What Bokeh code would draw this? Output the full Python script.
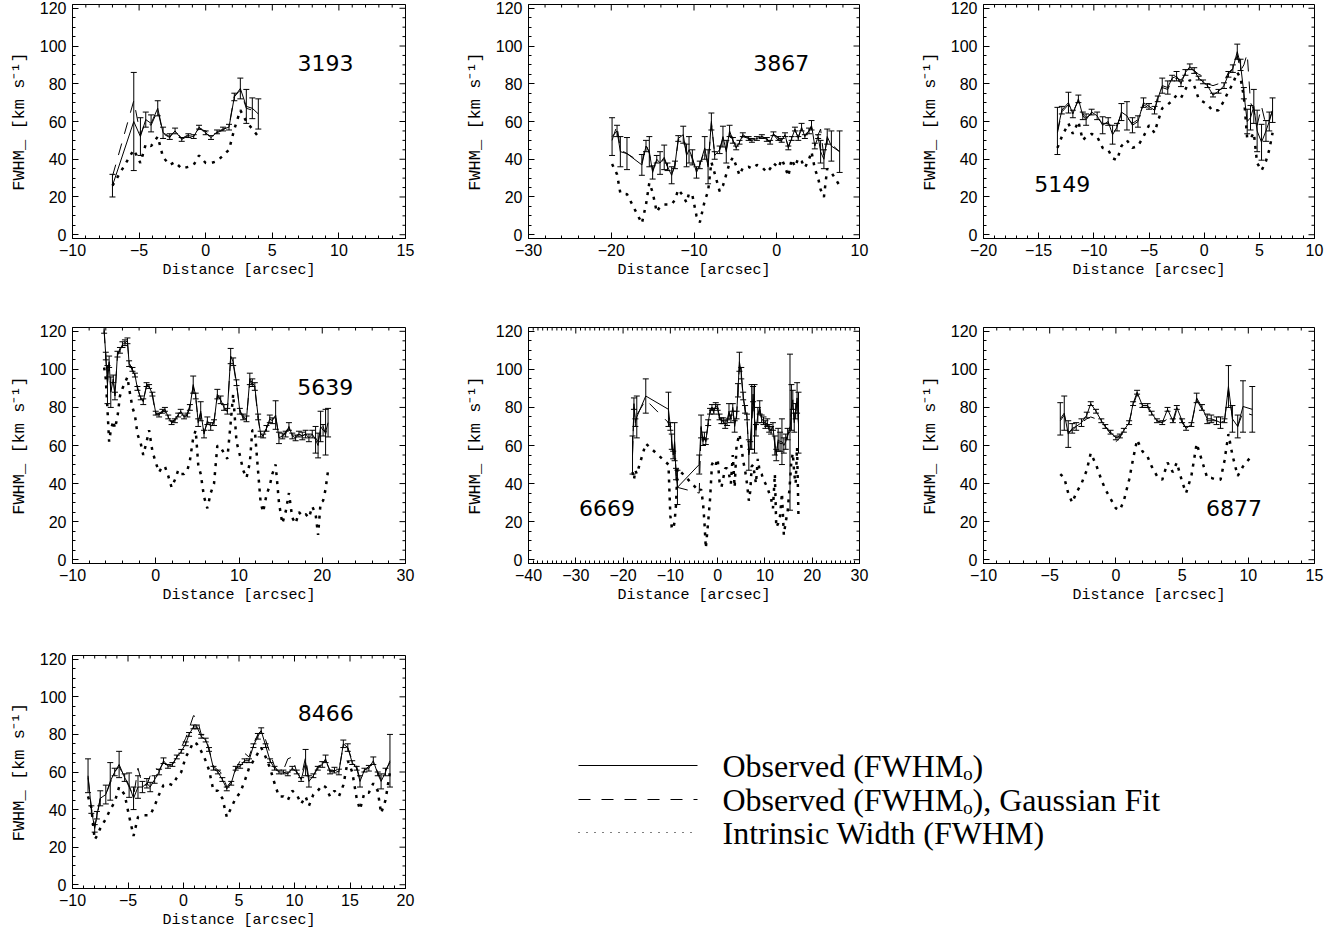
import math
from bokeh.plotting import figure
from bokeh.layouts import column, row
from bokeh.models import Range1d, LinearAxis, FixedTicker, Whisker, ColumnDataSource, TeeHead, Label
from bokeh.embed import file_html
from bokeh.resources import INLINE
from bokeh.core.properties import value

# ---------------- data ----------------
x_3193 = [-7.0, -5.4, -4.9, -4.5, -4.1, -3.6, -3.2, -2.7, -2.3, -1.8, -1.3, -0.9, -0.5, 0.0, 0.4, 0.85, 1.3, 1.75, 2.15, 2.6, 3.05, 3.5, 3.95]
obs_3193 = [26, 60, 52, 61, 59, 67, 54, 52, 55, 50.5, 52.5, 52, 57, 54, 51.5, 54.5, 56, 57, 73, 77.5, 68, 67, 64]
err_3193 = [6, 26, 10, 4, 4.5, 4, 3, 1.5, 1.5, 1, 1, 1, 1, 1, 1, 1, 1, 1.5, 2, 5.5, 9, 5.5, 8]
fit_3193 = [31, 71, 53, 60, 58, 66, 53.5, 51.5, 55.5, 51, 53, 53, 56, 55, 52.5, 54, 55.5, 57.5, 73.5, 76.5, 67, 66, 63]
intr_3193 = [26, 45, 38, 48, 47, 52, 41, 37, 38.5, 35, 36, 37, 42, 38, 38, 39, 42, 45, 56, 66, 60, 56, 52]

x_3867 = [-19.9, -19.3, -18.9, -18.1, -16.3, -15.8, -15.4, -15.0, -14.5, -14.1, -13.6, -13.2, -12.7, -12.3, -11.9, -11.3,
          -10.9, -10.6, -10.2, -9.7, -9.3, -8.7, -8.3, -7.9, -7.5, -6.9, -6.5, -6.1, -5.7, -5.3, -4.9, -4.5, -4.1, -3.4,
          -3.0, -2.4, -1.8, -1.2, -0.8, -0.4, 0.2, 0.6, 1.0, 1.4, 1.8, 2.2, 2.6, 3.0, 3.4, 3.9, 4.2, 4.6, 5.0, 5.3, 5.7,
          6.1, 6.6, 7.6]
obs_3867 = [52, 55, 44, 43, 37, 47, 44, 33, 40, 38, 41, 36, 31.5, 37, 51, 53, 42, 45, 41, 33, 37, 46, 36, 60, 42, 45,
            52, 44, 55, 50, 46, 49, 53, 51, 50, 51, 52, 50.5, 49, 53.5, 51, 50, 53, 46, 51, 56, 51, 57, 52, 55, 58, 47,
            52, 44, 40, 52, 47, 44]
err_3867 = [10, 3, 8, 8.5, 5.5, 3, 8, 3.5, 2, 6, 6.5, 2, 4.5, 2, 1.5, 4.5, 6, 7, 4, 3, 2, 6, 9, 4.5, 2, 2, 5.5, 6, 3,
            1.5, 1, 1, 1, 1, 1, 1, 1, 1, 1, 1, 1, 1, 1, 1, 1, 1, 1, 2, 1, 1.5, 2.5, 1.5, 1, 6, 5, 4, 8, 11]
fit_3867 = [50, 58, 45, 43, 38, 48, 43, 34, 40, 38, 40, 36, 32, 37, 50, 52, 43, 45, 40, 34, 37, 45, 37, 59, 43, 45, 51,
            45, 54, 50, 47, 49, 52, 51, 49, 51, 52, 51, 48.5, 53, 50, 49.5, 52, 47, 51, 55, 52, 56, 53, 55, 57, 52, 53,
            56, 41, 51, 48, 44]
intr_3867 = [37.5, 32, 22, 21.5, 6, 16, 27.5, 22.5, 12, 15, 16, 16, 16, 18.5, 24, 20.5, 17, 22, 21, 10, 6.5, 18, 23,
             38.5, 32.5, 23, 26, 32, 38, 41, 36.5, 31.5, 35.5, 36, 35, 37, 36, 33, 35, 38, 35.5, 40, 36, 31, 40, 36,
             40.5, 39, 35.5, 40, 44, 35, 30, 24, 20, 35, 33, 26]

x_5149 = [-13.3, -12.9, -12.3, -11.9, -11.4, -11.0, -10.7, -10.2, -9.7, -9.2, -8.7, -8.3, -7.9, -7.5, -7.0, -6.5, -6.0,
          -5.5, -5.0, -4.5, -4.2, -3.8, -3.3, -2.9, -2.5, -2.1, -1.7, -1.3, -0.9, -0.5, -0.1, 0.3, 0.8, 1.3, 1.8, 2.2,
          2.6, 3.0, 3.3, 3.6, 3.9, 4.2, 4.5, 4.8, 5.2, 5.6, 5.9, 6.2]
obs_5149 = [55, 66, 70, 64, 72, 63, 61, 65, 63, 58, 60, 53, 57, 65, 63, 58, 60, 70, 68, 66, 72, 79, 78, 83, 84, 80, 86,
            89, 87, 83, 81, 79, 74, 76, 79, 85, 88, 97, 90, 75, 60, 62, 68, 55, 49, 55, 60, 66]
err_5149 = [12.5, 2, 5.5, 2, 2, 2, 3, 1.5, 2, 4.5, 2, 5, 2, 4.5, 7.5, 4, 3, 2.5, 1.5, 2, 1.5, 4, 3.5, 1.5, 2.5, 1.5,
            1.5, 1.5, 1.5, 1, 1, 1, 1, 1, 1.5, 1.5, 2, 4, 3, 3, 6.5, 6.5, 9, 11, 9.5, 5.5, 5, 6.5]
fit_5149 = [54, 65, 69, 65, 71, 64, 62, 64, 62, 59, 59, 56, 58, 64, 62, 59, 61, 69, 67, 65, 74, 78, 77, 82, 83, 82, 85,
            88, 87, 85, 84, 80, 79, 80, 81, 86, 88, 95, 87, 90, 96, 70, 66, 58, 68, 58, 61, 66]
intr_5149 = [46, 52, 59, 53.5, 60, 50, 52, 53.5, 52, 46, 45, 40.5, 39.5, 47, 50, 46, 47, 52, 58, 54, 60, 67, 69, 71,
             74, 72.5, 77, 82, 79, 72, 70.5, 69, 65.5, 66, 71, 76, 80, 86, 83, 73, 51, 51, 54, 38, 34, 39, 45, 54]

x_5639 = [-6.2, -6.0, -5.8, -5.6, -5.4, -5.1, -4.9, -4.6, -4.3, -4.0, -3.7, -3.4, -3.2, -2.8, -2.5, -2.2, -1.8, -1.5,
          -1.1, -0.8, -0.4, 0.0, 0.4, 0.8, 1.1, 1.5, 1.9, 2.3, 2.7, 3.0, 3.4, 3.8, 4.1, 4.5, 4.8, 5.1, 5.4, 5.8, 6.2,
          6.6, 7.0, 7.4, 7.8, 8.2, 8.6, 9.0, 9.3, 9.7, 10.1, 10.5, 10.9, 11.3, 11.6, 11.9, 12.3, 12.6, 12.9, 13.3,
          13.7, 14.0, 14.4, 14.8, 15.2, 15.6, 16.0, 16.4, 16.8, 17.2, 17.6, 18.0, 18.4, 18.8, 19.2, 19.5, 19.8, 20.1,
          20.4, 20.7]
obs_5639 = [121, 107, 92, 104, 88, 95, 86, 108, 110, 113, 114, 115, 103, 100, 97, 90, 85, 83, 92, 91, 87, 77, 76, 78,
            79, 75, 72, 73, 76, 78, 75, 76, 80, 92, 86, 72, 78, 66, 73, 70, 72, 87, 84, 80, 78, 107, 104, 93, 78, 75,
            74, 95, 93, 91, 75, 66, 65, 69, 74, 73, 76, 64, 65, 66, 70, 65, 64, 66, 65, 66, 64, 66, 63, 60, 70, 68, 67,
            72]
err_5639 = [2, 2, 10, 3, 8, 2, 2, 1.5, 1.5, 1.5, 1.5, 1.5, 1.5, 1, 1, 1, 1, 1.5, 1, 1, 1, 1, 1, 1, 1, 1, 1, 1, 1, 1,
            1, 1, 1.5, 4.5, 1.5, 2, 5, 2, 2, 2, 1.5, 2.5, 2, 1.5, 1.5, 4, 2, 1.5, 1.5, 1.5, 1.5, 3, 2, 2, 1.5, 1.5, 1,
            1.5, 2, 1.5, 7.5, 3, 1.5, 1.5, 2, 1.5, 1.5, 1.5, 2, 2, 2, 2, 7, 6.5, 8, 3, 12, 7.5]
fit_5639 = [120, 106, 93, 103, 89, 94, 87, 107, 111, 112, 113, 114, 104, 99, 97, 91, 84, 84, 91, 92, 86, 76, 77, 78,
            78, 75, 72, 74, 76, 77, 75, 77, 81, 91, 85, 73, 77, 67, 72, 70, 73, 86, 84, 79, 78, 106, 103, 92, 79, 74,
            74, 94, 92, 90, 74, 66, 66, 69, 73, 74, 75, 65, 65, 67, 69, 65, 65, 66, 65, 66, 65, 66, 64, 62, 69, 70, 66,
            71]
intr_5639 = [101, 95, 79, 62, 68, 73, 69, 75, 86, 90, 93, 96, 90, 80, 76, 66, 61, 55, 62, 68, 57, 51, 46, 49, 49, 44,
             38, 42, 47, 45, 45, 47, 52, 64, 68, 50, 45, 33, 27, 35, 40, 60, 59, 56, 53, 72, 87, 62, 55, 47, 43, 51,
             68, 68, 46, 30, 25, 34, 39, 45, 50, 30, 19, 25, 35, 22, 19, 25, 23, 24, 22, 28, 24, 13, 30, 31, 37, 47]

x_6669 = [-18.0, -17.7, -17.4, -17.1, -15.2, -10.4, -10.0, -9.7, -9.4, -9.1, -8.8, -8.5, -3.9, -3.5, -3.1, -2.8, -2.5,
          -2.0, -1.6, -1.2, -0.8, -0.4, 0.0, 0.4, 0.8, 1.2, 1.6, 2.0, 2.4, 2.8, 3.2, 3.6, 4.0, 4.3, 4.6, 5.0, 5.4, 5.8,
          6.2, 6.6, 6.9, 7.2, 7.5, 7.8, 8.1, 8.5, 8.9, 9.3, 9.7, 10.1, 10.5, 10.9, 11.3, 11.7, 12.1, 12.4, 12.8, 13.2,
          13.6, 14.0, 14.4, 14.8, 15.3, 15.6, 15.9, 16.2, 16.5, 16.8, 17.1]
obs_6669 = [55, 82, 72, 75, 86, 79, 70, 62, 55, 62, 45, 38, 50, 70, 62, 65, 62, 72, 78, 80, 78, 81, 80, 75, 73, 73,
            71, 72, 78, 74, 80, 70, 76, 89, 104, 98, 86, 79, 75, 55, 60, 75, 87, 74, 68, 76, 80, 74, 73, 71, 72, 69,
            68, 70, 60, 55, 63, 62, 62, 60, 62, 66, 67, 80, 84, 72, 78, 85, 72]
err_6669 = [10, 3, 2, 11, 9, 9, 2, 4, 2, 10, 3, 9, 5, 6, 2, 2, 1.5, 1.5, 1.5, 1.5, 1.5, 1.5, 1.5, 1.5, 1.5, 1.5, 2,
            1.5, 4, 2, 2, 3, 2, 3.5, 5, 3, 2, 2, 1.5, 8, 2, 17, 4, 18, 3, 4, 3.5, 2, 2, 2, 2, 2, 2, 2, 5, 3, 6, 5, 12,
            4, 4, 3, 41, 12, 5, 5, 4, 8, 16]
fit_6669 = [56, 80, 73, 76, 84, 72, 70, 61, 56, 61, 46, 38, 35, 69, 63, 64, 63, 71, 77, 80, 77, 80, 79, 74, 73, 72,
            71, 73, 77, 74, 79, 71, 75, 88, 102, 97, 85, 79, 74, 56, 61, 70, 85, 73, 69, 75, 79, 73, 72, 70, 71, 68,
            68, 69, 61, 56, 62, 61, 61, 60, 62, 65, 70, 79, 83, 73, 77, 83, 71]
intr_6669 = [46, 42, 47, 45, 61, 50, 23, 17, 16, 20, 29, 48, 36, 37, 30, 20, 6, 20, 32, 50, 52, 50, 53, 41, 38, 43,
             48, 48, 45, 40, 55, 38, 60, 63, 66, 60, 52, 47, 40, 31, 36, 49, 50, 45, 40, 53, 46, 45, 42, 40, 38, 35,
             32, 27, 45, 17, 19, 23, 35, 13, 20, 25, 41, 52, 56, 45, 40, 59, 22]

x_6877 = [-4.2, -3.9, -3.6, -3.3, -3.0, -2.6, -2.2, -1.9, -1.5, -1.1, -0.8, -0.4, 0.0, 0.3, 0.6, 1.0, 1.3, 1.6, 2.0,
          2.4, 2.7, 3.1, 3.5, 3.9, 4.3, 4.6, 5.0, 5.3, 5.7, 6.1, 6.5, 6.9, 7.2, 7.6, 7.9, 8.2, 8.5, 8.8, 9.2, 9.6, 10.3]
obs_6877 = [74, 77, 66, 69, 70, 72, 76, 82, 78, 73, 70, 67, 64, 65, 68, 72, 82, 88, 81, 81, 77, 73, 72, 79, 73, 80,
            73, 69, 71, 85, 80, 74, 74, 73, 72, 73, 91, 74, 70, 80.5, 79]
err_6877 = [8.5, 9, 7, 2.5, 2, 2, 1.5, 1, 1, 1, 1, 1, 1, 1, 1, 1, 1, 1, 1, 1, 1, 1, 1, 1, 1, 1, 1, 1, 1, 2.5, 1.5,
            2.5, 2, 2, 3, 1, 11, 7, 6, 13.5, 12]
fit_6877 = [73, 76, 67, 68, 70, 72, 74, 75, 74, 72, 70, 66, 62, 64, 68, 72, 81, 87, 80, 80, 76, 73, 72, 74, 71.5, 79,
            72, 69, 71, 84, 79, 73, 73, 73, 72, 73, 89, 75, 70, 77.5, 76]
intr_6877 = [45, 43, 35, 30, 35, 40, 47, 56, 50, 42, 37, 32, 27, 26, 31, 42, 53, 63, 57, 54, 49, 44, 42, 51, 46, 51,
             41, 35, 44, 61, 52, 43, 43, 42, 42, 52, 66, 55, 44, 49, 55]

x_8466 = [-8.6, -8.3, -8.0, -7.8, -7.5, -7.0, -6.6, -6.2, -5.8, -5.3, -4.9, -4.5, -4.1, -3.7, -3.3, -3.0, -2.6, -2.2,
          -1.8, -1.4, -1.0, -0.6, -0.2, 0.2, 0.5, 0.9, 1.2, 1.6, 2.0, 2.3, 2.7, 3.1, 3.5, 3.9, 4.3, 4.7, 5.1, 5.5, 5.9,
          6.3, 6.7, 7.0, 7.4, 7.8, 8.2, 8.6, 9.0, 9.4, 9.8, 10.2, 10.6, 11.0, 11.3, 11.7, 12.1, 12.5, 12.8, 13.2, 13.6,
          14.0, 14.4, 14.8, 15.2, 15.6, 15.9, 16.3, 16.7, 17.1, 17.5, 17.8, 18.2, 18.6]
obs_8466 = [58, 40, 30, 37, 46, 48, 55, 60, 64, 57, 53, 46, 52, 52, 54, 52, 56, 60, 66, 63, 64, 68, 71, 75, 80, 84,
            84, 79, 77, 72, 62, 60, 56, 51, 54, 62, 63, 66, 66, 74, 79, 82, 74, 66, 62, 60, 60, 59, 62, 60, 56, 65,
            55, 58, 62, 64, 67, 60, 61, 60, 75, 73, 65, 62, 55, 61, 62, 66, 59, 55, 60, 66]
err_8466 = [9, 2, 2, 2, 4, 5, 10, 2, 7, 2, 6.5, 6, 6, 3, 2.5, 2.5, 2, 1.5, 1.5, 1, 1, 1, 1, 1, 1, 1, 1, 1, 1, 1, 1,
            1, 1, 1, 1, 1, 1, 1, 1, 1, 1.5, 1.5, 1, 1, 1, 1, 1, 1, 1, 1, 1, 7, 3, 1, 1, 1.5, 2, 1, 1.5, 1.5, 2, 2, 1,
            1, 3, 1, 1.5, 2, 1, 4, 2, 14]
fit_8466 = [57, 41, 31, 36, 46, 48, 54, 60, 63, 57, 52, 47, 62, 53, 53, 58, 62, 61, 65, 63, 64, 68, 73, 78, 83, 90,
            89, 80, 79, 72, 63, 61, 59, 52, 55, 61, 66, 70, 68, 75, 80, 82, 77, 70, 63, 60, 61, 67, 68, 60, 57, 68,
            56, 58, 63, 64, 66, 61, 60, 61, 74, 73, 66, 63, 56, 61, 63, 65, 60, 56, 61, 65]
intr_8466 = [47, 41, 24, 26, 30, 35, 40, 44, 52, 48, 36.5, 26, 36, 37, 37, 37, 42, 48, 53, 54, 53, 57, 60, 68, 71, 76,
             75, 71, 66, 61, 50, 50, 46, 36, 41, 46, 49, 55, 62, 66, 70, 73, 68, 62, 54, 47, 47, 45, 50, 48, 43, 47,
             42, 48, 50, 53, 52, 47, 50, 47, 53, 66, 60, 46, 40, 49, 49, 54, 50, 38, 45, 60]

panel_names = ["3193", "3867", "5149", "5639", "6669", "6877", "8466"]
x_ranges = [(-10, 15), (-30, 10), (-20, 10), (-10, 30), (-40, 30), (-10, 15), (-10, 20)]
x_major_step = [5, 10, 5, 10, 10, 5, 5]
x_minor_step = [1, 2, 1, 2, 1, 1, 1]
y_range = (-2, 122)
y_ticks = [0, 20, 40, 60, 80, 100, 120]
y_minor_step = 5
legend_labels = ["Observed (FWHM\u2092)", "Observed (FWHM\u2092), Gaussian Fit", "Intrinsic Width (FWHM)"]

# label positions (data units of each panel)
label_pos = [(6.9, 91), (-2.85, 91), (-15.4, 27), (17.0, 91), (-29.3, 27), (6.8, 27), (10.3, 91.5)]

series = {
    "3193": (x_3193, obs_3193, err_3193, fit_3193, intr_3193),
    "3867": (x_3867, obs_3867, err_3867, fit_3867, intr_3867),
    "5149": (x_5149, obs_5149, err_5149, fit_5149, intr_5149),
    "5639": (x_5639, obs_5639, err_5639, fit_5639, intr_5639),
    "6669": (x_6669, obs_6669, err_6669, fit_6669, intr_6669),
    "6877": (x_6877, obs_6877, err_6877, fit_6877, intr_6877),
    "8466": (x_8466, obs_8466, err_8466, fit_8466, intr_8466),
}
for k, v in series.items():
    n = len(v[0])
    assert all(len(a) == n for a in v), (k, [len(a) for a in v])


def fmt(v):
    return str(v).replace("-", "\u2212")


def style_axis(ax):
    ax.axis_line_color = "black"
    ax.axis_line_width = 1
    ax.major_tick_in = 6
    ax.major_tick_out = 0
    ax.minor_tick_in = 3
    ax.minor_tick_out = 0
    ax.major_tick_line_color = "black"
    ax.minor_tick_line_color = "black"
    ax.major_label_text_color = "black"
    ax.major_label_text_font = "Liberation Sans"
    ax.major_label_text_font_size = "16px"
    ax.axis_label_text_font = "Liberation Mono"
    ax.axis_label_text_font_style = "normal"
    ax.axis_label_text_color = "black"


def make_panel(i, width, height, bl, br, bt, bb):
    name = panel_names[i]
    xs, obs, err, fit, intr = series[name]
    x0, x1 = x_ranges[i]
    y0, y1 = y_range
    p = figure(width=width, height=height, x_range=Range1d(x0, x1), y_range=Range1d(y0, y1),
               x_axis_type=None, y_axis_type=None, output_backend="svg", toolbar_location=None,
               min_border_left=bl, min_border_right=br, min_border_top=bt, min_border_bottom=bb)
    p.outline_line_color = "black"
    p.outline_line_width = 1
    p.background_fill_color = "white"
    xt = list(range(x0, x1 + 1, x_major_step[i]))
    xm = list(range(x0, x1 + 1, x_minor_step[i]))
    ym = list(range(0, 121, y_minor_step))

    xax = LinearAxis(ticker=FixedTicker(ticks=xt, minor_ticks=xm))
    style_axis(xax)
    xax.axis_label = "Distance [arcsec]"
    xax.axis_label_text_font_size = "15px"
    xax.major_label_overrides = {v: fmt(v) for v in xt}
    xax.major_label_standoff = 5
    xax.axis_label_standoff = 3
    p.add_layout(xax, "below")

    yax = LinearAxis(ticker=FixedTicker(ticks=y_ticks, minor_ticks=ym))
    style_axis(yax)
    yax.axis_label = "FWHM_ [km s\u207b\u00b9]"
    yax.axis_label_text_font_size = "17px"
    yax.major_label_standoff = 6
    yax.axis_label_standoff = 8
    p.add_layout(yax, "left")

    # inward ticks on the top and right frame edges (drawn as clipped dash markers)
    xm_only = [v for v in xm if v not in xt]
    ym_only = [v for v in ym if v not in y_ticks]
    p.scatter(xt, [y1] * len(xt), marker="dash", angle=math.pi / 2, size=12, line_color="black", line_width=1)
    p.scatter(xm_only, [y1] * len(xm_only), marker="dash", angle=math.pi / 2, size=6, line_color="black", line_width=1)
    p.scatter([x1] * len(y_ticks), y_ticks, marker="dash", size=12, line_color="black", line_width=1)
    p.scatter([x1] * len(ym_only), ym_only, marker="dash", size=6, line_color="black", line_width=1)

    p.line(xs, intr, line_color="black", line_width=2.5, line_dash="3 6")
    p.line(xs, fit, line_color="black", line_width=1, line_dash="12 10")
    p.line(xs, obs, line_color="black", line_width=1)
    src = ColumnDataSource(dict(x=xs, lo=[o - e for o, e in zip(obs, err)], hi=[o + e for o, e in zip(obs, err)]))
    w = Whisker(source=src, base="x", lower="lo", upper="hi", line_color="black", line_width=1,
                lower_head=TeeHead(size=6, line_color="black", line_width=1),
                upper_head=TeeHead(size=6, line_color="black", line_width=1))
    p.add_layout(w)
    lx, ly = label_pos[i]
    p.add_layout(Label(x=lx, y=ly, text=name, text_font="DejaVu Sans", text_font_size="22px",
                       text_baseline="middle", text_align="left", text_color="black"))
    return p


col_w = [462, 455, 413]
col_bl = [72, 64, 64]
col_br = [57, 58, 16]
row_h = [323, 328, 283]
row_bt = [4, 4, 4]
row_bb = [85, 88, 46]

panels = []
for i in range(7):
    r, c = divmod(i, 3)
    panels.append(make_panel(i, col_w[c], row_h[r], col_bl[c], col_br[c], row_bt[r], row_bb[r]))

# legend area (its frame is aligned with panel 7's frame: same top/bottom borders)
LW = col_w[1] + col_w[2]
LH = row_h[2]
FH = LH - row_bt[2] - row_bb[2]
leg = figure(width=LW, height=LH, x_range=Range1d(0, LW), y_range=Range1d(FH, 0),
             x_axis_type=None, y_axis_type=None, output_backend="svg", toolbar_location=None,
             min_border_left=0, min_border_right=0, min_border_top=row_bt[2], min_border_bottom=row_bb[2])
leg.outline_line_color = None
leg_dash = ["solid", "12 11", "1 7"]
leg_y = [110, 144, 177]
for lab, dash, yy in zip(legend_labels, leg_dash, leg_y):
    leg.line([116, 235], [yy, yy], line_color="black", line_width=1, line_dash=dash)
    leg.text(x=[260], y=[yy], text=[lab], text_font=value("Liberation Serif"), text_font_size="32px",
             text_baseline="middle", text_align="left", text_color="black")

layout = column(row(panels[0], panels[1], panels[2]),
                row(panels[3], panels[4], panels[5]),
                row(panels[6], leg))

open("out.html", "w").write(file_html(layout, INLINE))
